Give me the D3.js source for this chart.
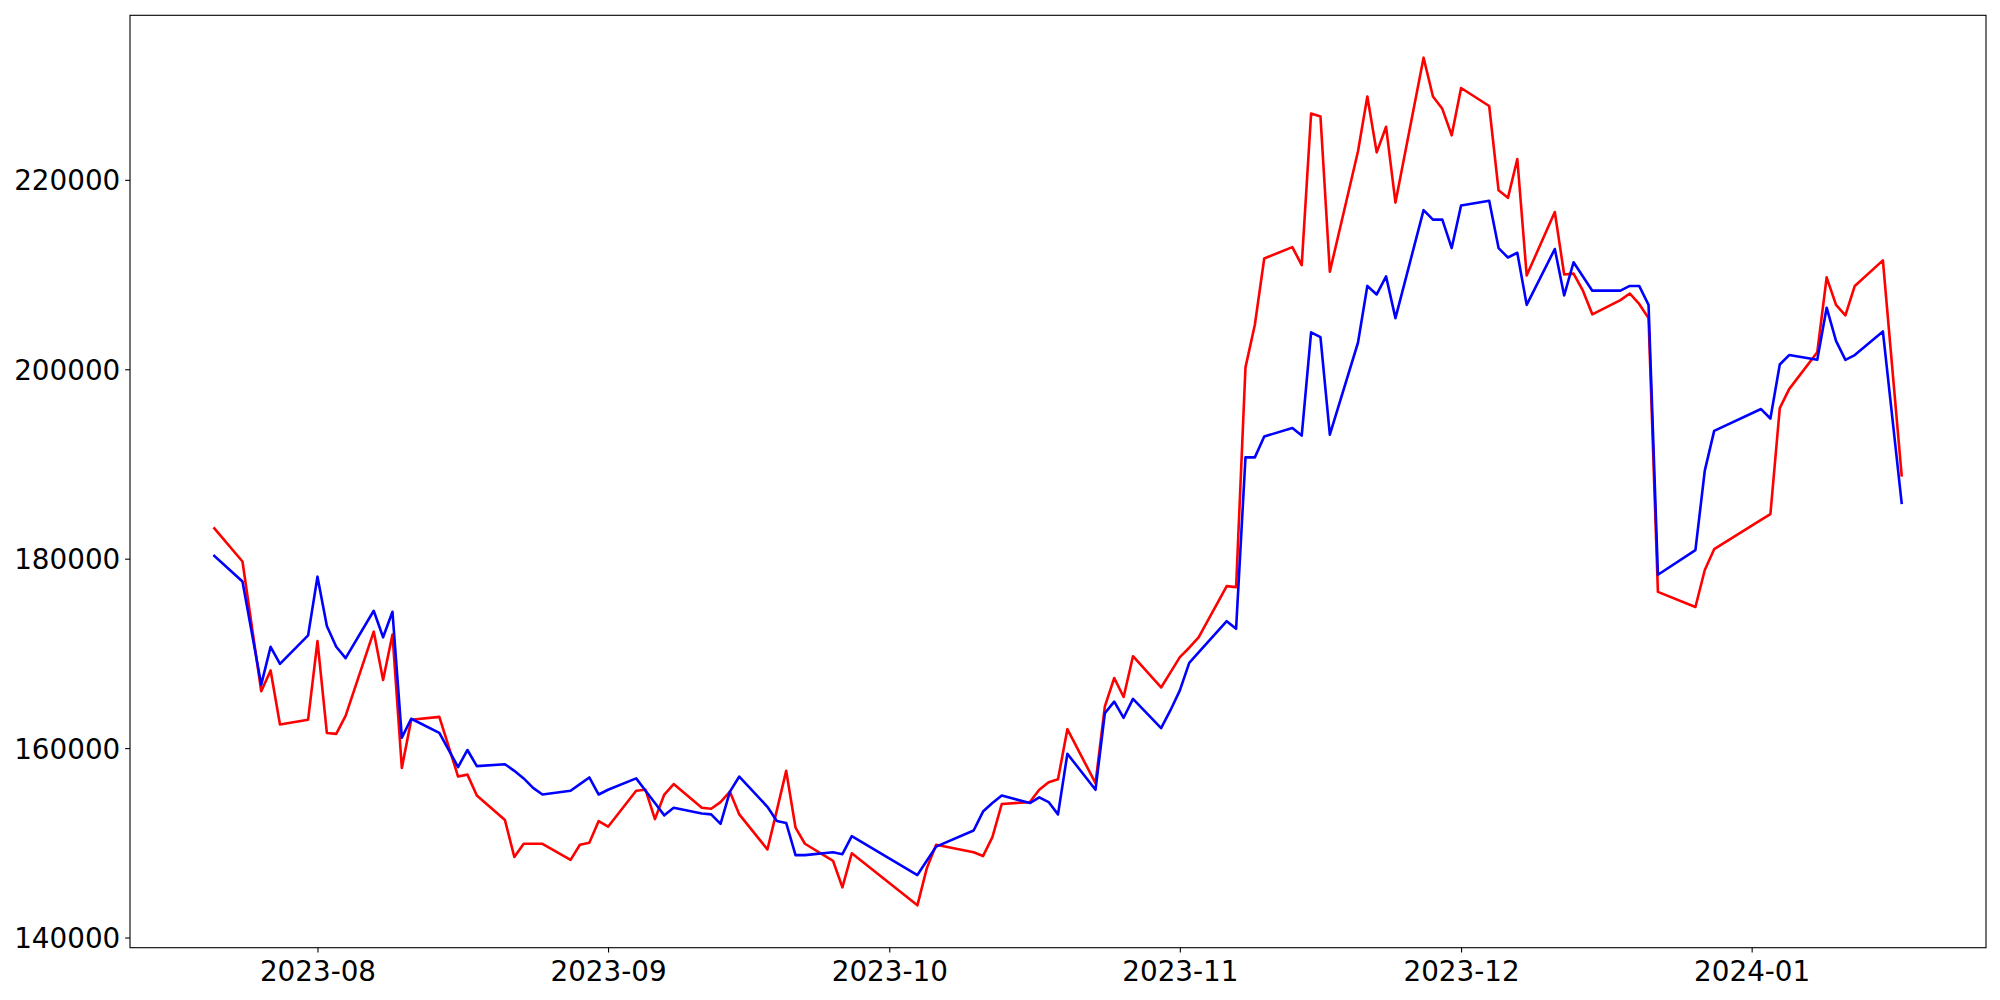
<!DOCTYPE html>
<html>
<head>
<meta charset="utf-8">
<script src="https://cdn.jsdelivr.net/npm/d3@7"></script>
<style>
  html, body { margin: 0; padding: 0; background: #ffffff; }
  svg { display: block; }
  text { font-family: "DejaVu Sans", sans-serif; }
</style>
</head>
<body>
<svg id="chart" width="2000" height="1000"></svg>
<script>
const dates = [
  "2023-07-21","2023-07-24","2023-07-26","2023-07-27","2023-07-28","2023-07-31",
  "2023-08-01","2023-08-02","2023-08-03","2023-08-04","2023-08-07","2023-08-08","2023-08-09","2023-08-10","2023-08-11","2023-08-14","2023-08-16","2023-08-17","2023-08-18","2023-08-21","2023-08-22","2023-08-23","2023-08-24","2023-08-25","2023-08-28","2023-08-29","2023-08-30","2023-08-31",
  "2023-09-01","2023-09-04","2023-09-05","2023-09-06","2023-09-07","2023-09-08","2023-09-11","2023-09-12","2023-09-13","2023-09-14","2023-09-15","2023-09-18","2023-09-19","2023-09-20","2023-09-21","2023-09-22","2023-09-25","2023-09-26","2023-09-27",
  "2023-10-04","2023-10-05","2023-10-06","2023-10-10","2023-10-11","2023-10-12","2023-10-13","2023-10-16","2023-10-17","2023-10-18","2023-10-19","2023-10-20","2023-10-23","2023-10-24","2023-10-25","2023-10-26","2023-10-27","2023-10-30","2023-10-31",
  "2023-11-01","2023-11-02","2023-11-03","2023-11-06","2023-11-07","2023-11-08","2023-11-09","2023-11-10","2023-11-13","2023-11-14","2023-11-15","2023-11-16","2023-11-17","2023-11-20","2023-11-21","2023-11-22","2023-11-23","2023-11-24","2023-11-27","2023-11-28","2023-11-29","2023-11-30",
  "2023-12-01","2023-12-04","2023-12-05","2023-12-06","2023-12-07","2023-12-08","2023-12-11","2023-12-12","2023-12-13","2023-12-14","2023-12-15","2023-12-18","2023-12-19","2023-12-20","2023-12-21","2023-12-22","2023-12-26","2023-12-27","2023-12-28",
  "2024-01-02","2024-01-03","2024-01-04","2024-01-05","2024-01-08","2024-01-09","2024-01-10","2024-01-11","2024-01-12","2024-01-15","2024-01-17"
];

const redValues = [
  183200,179700,166000,168200,162500,163000,
  171300,161600,161500,163400,172300,167200,172000,157900,163000,163300,157000,157200,155000,152400,148500,149900,149900,149900,148200,149800,150000,152300,
  151700,155500,155600,152500,155100,156200,153700,153600,154300,155400,153000,149300,153400,157600,151600,149900,148100,145300,148900,
  143400,147300,149800,149000,148600,150600,154100,154300,155600,156400,156700,162000,156300,164400,167400,165400,169700,166400,168000,
  169600,170600,171700,177100,177000,200200,204700,211700,212900,211000,227000,226700,210300,223000,228800,222900,225600,217600,232900,228800,227500,224700,
  229700,227800,218900,218100,222200,209900,216600,210000,210100,208300,205800,207300,208000,206900,205400,176500,174900,178800,181000,
  184100,184700,195900,197900,201800,209700,206800,205700,208800,211500,188800
];

const blueValues = [
  180300,177600,166700,170700,168900,171900,
  178100,172900,170700,169500,174500,171700,174400,161100,163100,161600,158000,159800,158100,158300,157600,156800,155800,155100,155500,156200,156900,155100,
  155600,156800,155500,154200,152900,153700,153100,153000,152000,155400,157000,153800,152300,152100,148700,148700,149000,148800,150700,
  146600,148100,149600,151300,153300,154200,155000,154200,154800,154300,153000,159400,155600,163700,164900,163200,165200,162100,164000,
  166100,169000,170100,173400,172600,190700,190700,192900,193800,193000,203900,203400,193100,202800,208800,207900,209800,205400,216800,215800,215800,212800,
  217300,217800,212800,211800,212300,206800,212700,207800,211300,209800,208300,208300,208800,208800,206800,178300,180900,189300,193500,
  195800,194800,200500,201500,201000,206500,203000,201000,201500,204000,185900
];

const yTickValues = [140000, 160000, 180000, 200000, 220000];
const xTickLabels = ["2023-08","2023-09","2023-10","2023-11","2023-12","2024-01"];

const parseDate = d3.timeParse("%Y-%m-%d");
const parseMonth = d3.timeParse("%Y-%m");
const dateObjs = dates.map(parseDate);
const redData = dateObjs.map((d, i) => ({date: d, value: redValues[i]}));
const blueData = dateObjs.map((d, i) => ({date: d, value: blueValues[i]}));

const box = {left: 130, right: 1986, top: 15.3, bottom: 947.7};

// matplotlib-style 5% margins
const xExt = d3.extent(dateObjs);
const xPad = (xExt[1] - xExt[0]) * 0.05;
const allVals = redValues.concat(blueValues);
const yExt = d3.extent(allVals);
const yPad = (yExt[1] - yExt[0]) * 0.05;

const x = d3.scaleTime()
  .domain([new Date(+xExt[0] - xPad), new Date(+xExt[1] + xPad)])
  .range([box.left, box.right]);
const y = d3.scaleLinear()
  .domain([yExt[0] - yPad, yExt[1] + yPad])
  .range([box.bottom, box.top]);

const svg = d3.select("#chart");
svg.append("rect").attr("width", 2000).attr("height", 1000).attr("fill", "#ffffff");

svg.append("defs").append("clipPath").attr("id", "plotclip")
  .append("rect")
  .attr("x", box.left).attr("y", box.top)
  .attr("width", box.right - box.left).attr("height", box.bottom - box.top);

const line = d3.line().x(d => x(d.date)).y(d => y(d.value));

const plot = svg.append("g").attr("clip-path", "url(#plotclip)");
plot.append("path").datum(redData)
  .attr("d", line).attr("fill", "none")
  .attr("stroke", "#ff0000").attr("stroke-width", 2.6)
  .attr("stroke-linejoin", "round").attr("stroke-linecap", "square");
plot.append("path").datum(blueData)
  .attr("d", line).attr("fill", "none")
  .attr("stroke", "#0000ff").attr("stroke-width", 2.6)
  .attr("stroke-linejoin", "round").attr("stroke-linecap", "square");

const tickLen = 4.86;
const fontSize = 27.8;

const yAxis = d3.axisLeft(y).tickValues(yTickValues).tickFormat(d3.format("d"))
  .tickSize(tickLen).tickPadding(tickLen).tickSizeOuter(0);
const gy = svg.append("g").attr("transform", `translate(${box.left},0)`).call(yAxis);
gy.select(".domain").remove();
gy.selectAll(".tick line").attr("stroke", "#000").attr("stroke-width", 1.1);
gy.selectAll(".tick text").attr("font-size", fontSize).attr("fill", "#000")
  .attr("font-family", "DejaVu Sans").attr("dy", "0.36em");

const xAxis = d3.axisBottom(x).tickValues(xTickLabels.map(parseMonth))
  .tickFormat(d3.timeFormat("%Y-%m"))
  .tickSize(tickLen).tickPadding(tickLen).tickSizeOuter(0);
const gx = svg.append("g").attr("transform", `translate(0,${box.bottom})`).call(xAxis);
gx.select(".domain").remove();
gx.selectAll(".tick line").attr("stroke", "#000").attr("stroke-width", 1.1);
gx.selectAll(".tick text").attr("font-size", fontSize).attr("fill", "#000")
  .attr("font-family", "DejaVu Sans").attr("dy", "0.86em");

svg.append("rect")
  .attr("x", box.left).attr("y", box.top)
  .attr("width", box.right - box.left).attr("height", box.bottom - box.top)
  .attr("fill", "none").attr("stroke", "#000").attr("stroke-width", 1.1);
</script>
</body>
</html>
